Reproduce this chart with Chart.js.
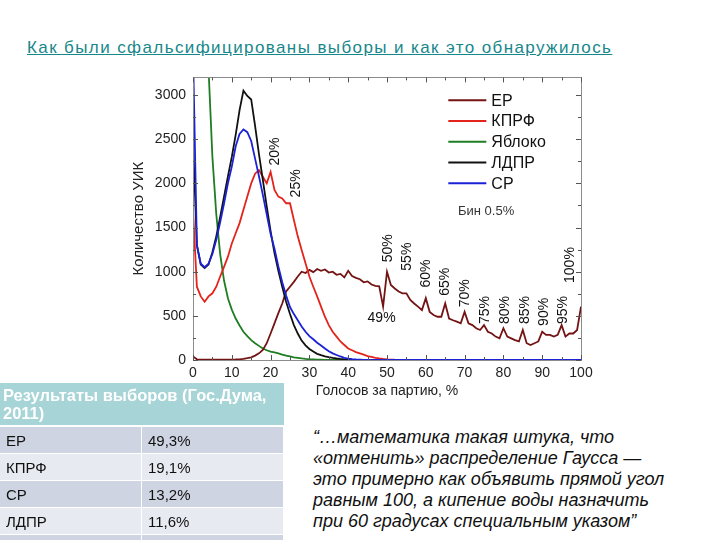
<!DOCTYPE html>
<html lang="ru">
<head>
<meta charset="utf-8">
<script src="https://cdn.jsdelivr.net/npm/chart.js@4.4.1/dist/chart.umd.min.js"></script>
<style>
  html, body { margin: 0; padding: 0; background: #fff; }
  body { width: 720px; height: 540px; position: relative; overflow: hidden; font-family: "Liberation Sans", Arial, sans-serif; }
  #title { position: absolute; left: 27px; top: 38px; font-size: 17px; letter-spacing: 1.4px; color: #17878b; text-decoration: underline; white-space: nowrap; }
  #chartBox { position: absolute; left: 120px; top: 62px; width: 480px; height: 338px; }
  #results { position: absolute; left: 0; top: 383px; width: 284px; border-collapse: separate; border-spacing: 0; font-size: 15px; z-index: 2; }
  #results td { padding: 0 6px; height: 26px; border-bottom: 1px solid #fff; border-right: 1px solid #fff; color: #111; }
  #results th { background: #a7d4d6; color: #fff; font-weight: bold; font-size: 16.5px; text-align: left; padding: 3px 3px; height: 36px; line-height: 18px; border-bottom: 2px solid #fff; }
  #results tr.odd td { background: #cfd4e2; }
  #results tr.even td { background: #e8eaf1; }
  #quote { position: absolute; left: 313px; top: 427px; font-size: 18px; line-height: 21px; font-style: italic; color: #111; white-space: nowrap; }
</style>
</head>
<body>
<div id="title">Как были сфальсифицированы выборы и как это обнаружилось</div>
<div id="chartBox"><canvas id="chartGauss"></canvas></div>
<table id="results">
  <thead><tr><th colspan="2">Результаты выборов (Гос.Дума, 2011)</th></tr></thead>
  <tbody id="resultsBody"></tbody>
</table>
<div id="quote">“…математика такая штука, что<br>«отменить» распределение Гаусса —<br>это примерно как объявить прямой угол<br>равным 100, а кипение воды назначить<br>при 60 градусах специальным указом”</div>

<script>
// --- DATOS ---
const percent = [0,1,2,3,4,5,6,7,8,9,10,11,12,13,14,15,16,17,18,19,20,21,22,23,24,25,26,27,28,29,30,
  31,32,33,34,35,36,37,38,39,40,41,42,43,44,45,46,47,48,49,50,51,52,53,54,55,56,57,58,59,60,
  61,62,63,64,65,66,67,68,69,70,71,72,73,74,75,76,77,78,79,80,81,82,83,84,85,86,87,88,89,90,
  91,92,93,94,95,96,97,98,99,100];

const er = [40,8,5,4,3,3,3,3,4,4,5,6,8,12,20,30,50,75,113,190,300,415,530,640,775,830,885,945,1000,985,1020,
  995,1030,1010,1025,990,1000,965,975,935,1010,950,930,915,880,890,855,840,835,605,1000,
  850,810,775,755,755,680,640,605,565,700,545,510,490,490,640,470,450,435,415,545,
  415,395,360,340,395,320,300,265,245,360,265,245,225,210,340,190,170,190,210,320,
  285,285,265,285,395,265,300,300,340,605];

const kprf = [1700,830,720,660,720,755,830,945,1055,1170,1320,1435,1550,1700,1850,2000,2110,2150,2075,2000,2130,
  1925,1850,1830,1775,1775,1585,1400,1245,1095,945,830,720,605,490,395,320,265,210,170,130,
  110,90,75,60,45,35,25,18,12,8,5,3,2,1,0,0,0,0,0,0,
  0,0,0,0,0,0,0,0,0,0,0,0,0,0,0,0,0,0,0,0,0,0,0,0,0,0,0,0,0,0,0,0,0,0,0,0,0,0,0,0];

const yabloko = [4500,6000,6000,4800,3300,2300,1650,1200,900,700,570,470,390,320,270,225,190,160,130,110,95,
  85,75,60,50,40,30,25,18,12,8,6,4,3,2,1,0,0,0,0,0,
  0,0,0,0,0,0,0,0,0,0,0,0,0,0,0,0,0,0,0,0,0,0,0,0,0,0,0,0,0,0,
  0,0,0,0,0,0,0,0,0,0,0,0,0,0,0,0,0,0,0,0,0,0,0,0,0,0,0,0,0,0];

const ldpr = [2500,1300,1080,1040,1080,1220,1400,1620,1850,2080,2300,2550,2830,3050,2990,2950,2650,2330,2040,1740,1460,
  1210,1010,830,660,520,395,300,220,165,125,95,70,55,42,32,24,17,12,8,5,
  3,2,1,0,0,0,0,0,0,0,0,0,0,0,0,0,0,0,0,0,0,0,0,0,0,0,0,0,0,0,
  0,0,0,0,0,0,0,0,0,0,0,0,0,0,0,0,0,0,0,0,0,0,0,0,0,0,0,0,0,0];

const sr = [3500,1300,1090,1050,1090,1200,1360,1560,1770,2000,2190,2420,2560,2610,2580,2480,2280,2080,1870,1650,1430,
  1260,1060,880,730,600,520,450,380,320,270,235,195,165,130,100,75,57,40,25,15,
  10,6,4,2,1,0,0,0,0,0,0,0,0,0,0,0,0,0,0,0,0,0,0,0,0,0,0,0,0,0,
  0,0,0,0,0,0,0,0,0,0,0,0,0,0,0,0,0,0,0,0,0,0,0,0,0,0,0,0,0,0];

const parties = ['ЕР', 'КПРФ', 'Яблоко', 'ЛДПР', 'СР'];
const partyColors = ['#741313', '#e3241c', '#1f7d22', '#111111', '#1b22d6'];
const xTicks = [0,10,20,30,40,50,60,70,80,90,100];
const yTicks = [0,500,1000,1500,2000,2500,3000];

// anotaciones de picos (etiqueta, % , cantidad)
const peakLabels = ['20%','25%','50%','55%','60%','65%','70%','75%','80%','85%','90%','95%','100%'];
const peakX      = [21.1, 26.7, 50.2, 55.1, 60.1, 65.0, 70.1, 75.3, 80.5, 85.5, 90.4, 95.3, 97.2];
const peakY      = [2360, 2000, 1265, 1170, 980, 885, 755, 565, 565, 565, 545, 565, 1075];

const resultParties = ['ЕР', 'КПРФ', 'СР', 'ЛДПР', ''];
const resultValues  = ['49,3%', '19,1%', '13,2%', '11,6%', ''];

// --- TABLA ---
const tbody = document.getElementById('resultsBody');
resultParties.forEach((p, i) => {
    const tr = document.createElement('tr');
    tr.className = i % 2 === 0 ? 'odd' : 'even';
    tr.innerHTML = `<td style="width:129px">${p}</td><td>${resultValues[i]}</td>`;
    tbody.appendChild(tr);
});

// --- PLUGIN: marco, ticks internos, leyenda y anotaciones ---
const overlayPlugin = {
    id: 'overlay',
    afterDatasetsDraw(chart) {
        const { ctx, chartArea: a, scales: { x, y } } = chart;
        ctx.save();
        ctx.strokeStyle = '#8c8c8c';
        ctx.lineWidth = 1;
        ctx.strokeRect(Math.round(a.left) + 0.5, Math.round(a.top) + 0.5, Math.round(a.right - a.left), Math.round(a.bottom - a.top));

        // ticks hacia adentro
        ctx.strokeStyle = '#555';
        ctx.beginPath();
        for (let v = 0; v <= 100; v += 5) {
            const px = Math.round(x.getPixelForValue(v)) + 0.5;
            const len = v % 10 === 0 ? 5 : 3;
            ctx.moveTo(px, a.bottom); ctx.lineTo(px, a.bottom - len);
            ctx.moveTo(px, a.top); ctx.lineTo(px, a.top + len);
        }
        for (let v = 0; v <= 3000; v += 250) {
            const py = Math.round(y.getPixelForValue(v)) + 0.5;
            const len = v % 500 === 0 ? 5 : 3;
            ctx.moveTo(a.left, py); ctx.lineTo(a.left + len, py);
            ctx.moveTo(a.right, py); ctx.lineTo(a.right - len, py);
        }
        ctx.stroke();

        // etiquetas de picos (verticales)
        ctx.fillStyle = '#111';
        ctx.font = '14px "Liberation Sans", Arial, sans-serif';
        ctx.textAlign = 'center';
        ctx.textBaseline = 'middle';
        peakLabels.forEach((t, i) => {
            ctx.save();
            ctx.translate(x.getPixelForValue(peakX[i]), y.getPixelForValue(peakY[i]));
            ctx.rotate(-Math.PI / 2);
            ctx.fillText(t, 0, 0);
            ctx.restore();
        });
        ctx.fillText('49%', x.getPixelForValue(48.6), y.getPixelForValue(470));

        ctx.fillStyle = '#333';
        ctx.font = '13px "Liberation Sans", Arial, sans-serif';
        ctx.textAlign = 'left';
        ctx.fillText('Бин 0.5%', x.getPixelForValue(68.3), y.getPixelForValue(1680));

        // leyenda
        ctx.font = '16px "Liberation Sans", Arial, sans-serif';
        const lx0 = x.getPixelForValue(65.8), lx1 = x.getPixelForValue(75.6);
        const ly0 = y.getPixelForValue(2940);
        parties.forEach((p, i) => {
            const ly = ly0 + i * 20.7;
            ctx.strokeStyle = partyColors[i];
            ctx.lineWidth = 2;
            ctx.beginPath(); ctx.moveTo(lx0, ly); ctx.lineTo(lx1, ly); ctx.stroke();
            ctx.fillStyle = '#111';
            ctx.fillText(p, lx1 + 5, ly + 1);
        });
        ctx.restore();
    }
};

// --- GRÁFICO ---
const series = [er, kprf, yabloko, ldpr, sr];
const drawOrder = [4, 3, 5, 2, 1];

new Chart(document.getElementById('chartGauss'), {
    type: 'line',
    data: {
        datasets: series.map((s, i) => ({
            label: parties[i],
            data: percent.map((p, k) => ({ x: p, y: s[k] })),
            borderColor: partyColors[i],
            borderWidth: 1.8,
            pointRadius: 0,
            tension: 0,
            fill: false,
            order: drawOrder[i]
        }))
    },
    options: {
        responsive: true,
        maintainAspectRatio: false,
        animation: false,
        layout: { padding: { top: 7, right: 19, left: 0, bottom: 0 } },
        plugins: { legend: { display: false }, tooltip: { enabled: false } },
        scales: {
            x: {
                type: 'linear', min: 0, max: 100,
                afterBuildTicks: s => { s.ticks = xTicks.map(v => ({ value: v })); },
                afterFit: s => { s.height = 40; },
                grid: { display: false, drawTicks: false },
                border: { display: false },
                ticks: { padding: 5, color: '#222', callback: v => String(v),
                         font: { size: 14, family: '"Liberation Sans", Arial, sans-serif' } },
                title: { display: true, text: 'Голосов за партию, %', color: '#222', padding: { top: 0, bottom: 0 },
                         font: { size: 14, family: '"Liberation Sans", Arial, sans-serif' } }
            },
            y: {
                type: 'linear', min: 0, max: 3200,
                afterBuildTicks: s => { s.ticks = yTicks.map(v => ({ value: v })); },
                afterFit: s => { s.width = 73; },
                grid: { display: false, drawTicks: false },
                border: { display: false },
                ticks: { padding: 7, color: '#222', callback: v => String(v),
                         font: { size: 14, family: '"Liberation Sans", Arial, sans-serif' } },
                title: { display: true, text: 'Количество УИК', color: '#222', padding: { top: 10, bottom: 0 },
                         font: { size: 15, family: '"Liberation Sans", Arial, sans-serif' } }
            }
        }
    },
    plugins: [overlayPlugin]
});
</script>
</body>
</html>
